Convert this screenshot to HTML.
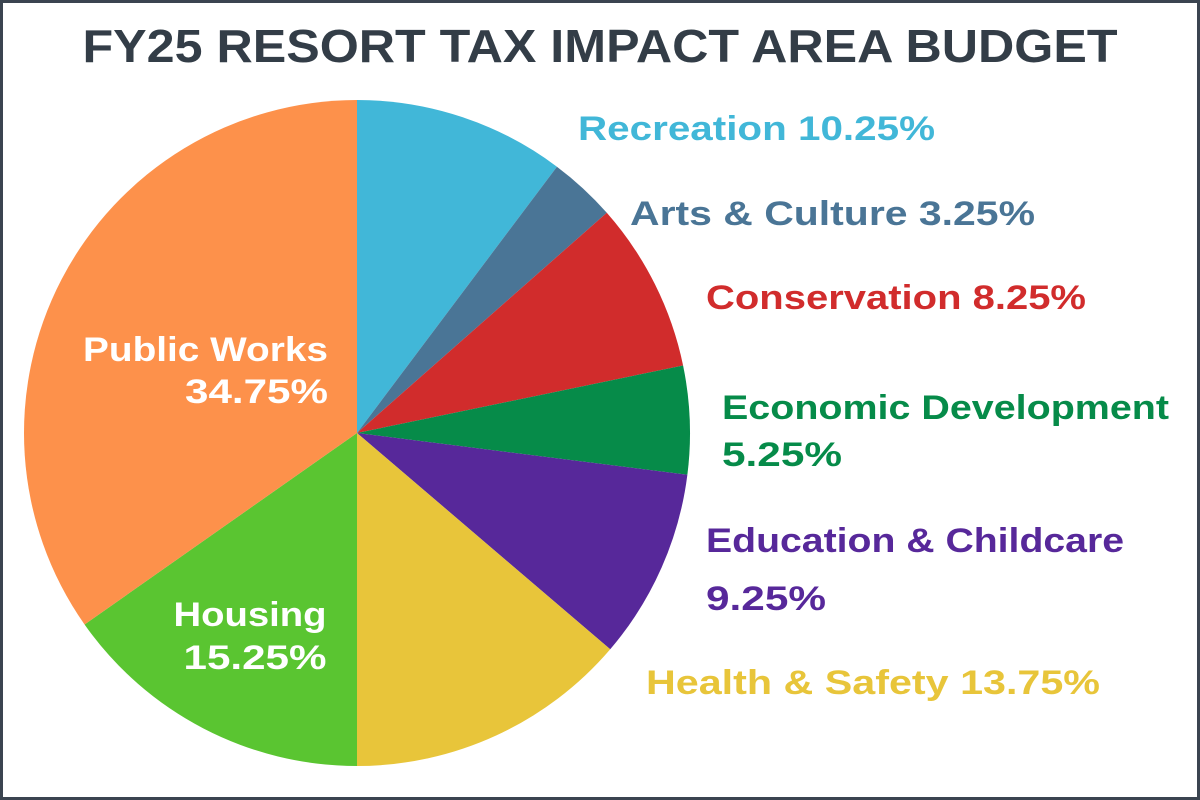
<!DOCTYPE html>
<html><head><meta charset="utf-8"><style>
html,body{margin:0;padding:0;background:#fff;}
svg{display:block;}
text{font-family:"Liberation Sans",sans-serif;font-weight:bold;}
</style></head><body>
<svg id="chart" width="1200" height="800" viewBox="0 0 1200 800">
<rect x="1.5" y="1.5" width="1197" height="797" fill="#fff" stroke="#3b4450" stroke-width="3"/>
<text x="600" y="62" text-anchor="middle" font-size="46" fill="#333d47" textLength="1035" lengthAdjust="spacingAndGlyphs">FY25 RESORT TAX IMPACT AREA BUDGET</text>
<g id="slices"></g>
<g>
<text x="578" y="140" font-size="34" fill="#41b7d8" textLength="357" lengthAdjust="spacingAndGlyphs">Recreation 10.25%</text>
<text x="630" y="225" font-size="34" fill="#4a7596" textLength="405" lengthAdjust="spacingAndGlyphs">Arts &amp; Culture 3.25%</text>
<text x="706" y="309" font-size="34" fill="#d12c2c" textLength="380" lengthAdjust="spacingAndGlyphs">Conservation 8.25%</text>
<text x="722" y="419" font-size="34" fill="#068b49" textLength="447" lengthAdjust="spacingAndGlyphs">Economic Development</text>
<text x="722" y="466" font-size="34" fill="#068b49" textLength="120" lengthAdjust="spacingAndGlyphs">5.25%</text>
<text x="706" y="552" font-size="34" fill="#57289a" textLength="418" lengthAdjust="spacingAndGlyphs">Education &amp; Childcare</text>
<text x="706" y="610" font-size="34" fill="#57289a" textLength="120" lengthAdjust="spacingAndGlyphs">9.25%</text>
<text x="646" y="694" font-size="34" fill="#e8c53a" textLength="454" lengthAdjust="spacingAndGlyphs">Health &amp; Safety 13.75%</text>
<text x="328" y="361" font-size="34" fill="#fff" text-anchor="end" textLength="245" lengthAdjust="spacingAndGlyphs">Public Works</text>
<text x="328" y="403" font-size="34" fill="#fff" text-anchor="end" textLength="143" lengthAdjust="spacingAndGlyphs">34.75%</text>
<text x="250" y="626" font-size="34" fill="#fff" text-anchor="middle" textLength="153" lengthAdjust="spacingAndGlyphs">Housing</text>
<text x="255" y="669" font-size="34" fill="#fff" text-anchor="middle" textLength="143" lengthAdjust="spacingAndGlyphs">15.25%</text>
</g>
</svg>
<script>
const categories = ["Recreation","Arts & Culture","Conservation","Economic Development","Education & Childcare","Health & Safety","Housing","Public Works"];
const values = [10.25,3.25,8.25,5.25,9.25,13.75,15.25,34.75];
const colors = ["#41b7d8","#4a7596","#d12c2c","#068b49","#57289a","#e8c53a","#5ac531","#fd914b"];
const cx = 357, cy = 433, r = 333;
const g = document.getElementById('slices');
const total = values.reduce((a,b)=>a+b,0);
function pt(frac){ const a = frac*2*Math.PI - Math.PI/2; return [cx + r*Math.cos(a), cy + r*Math.sin(a)]; }
let acc = 0;
values.forEach((v,i)=>{
  const s = acc/total, e = (acc+v)/total; acc += v;
  const [x1,y1] = pt(s), [x2,y2] = pt(e);
  const large = (e-s) > 0.5 ? 1 : 0;
  const p = document.createElementNS('http://www.w3.org/2000/svg','path');
  p.setAttribute('d', `M${cx},${cy} L${x1},${y1} A${r},${r} 0 ${large} 1 ${x2},${y2} Z`);
  p.setAttribute('fill', colors[i]);
  
  
  g.appendChild(p);
});
</script>
</body></html>
